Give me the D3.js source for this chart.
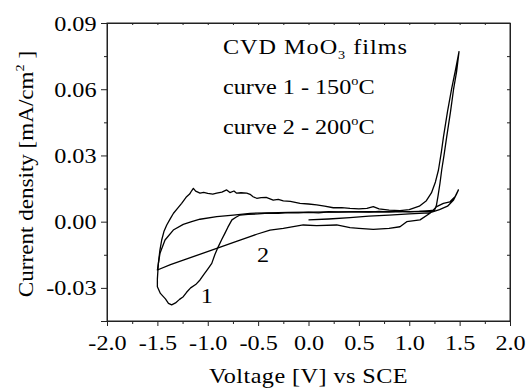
<!DOCTYPE html>
<html>
<head>
<meta charset="utf-8">
<script src="https://cdn.jsdelivr.net/npm/d3@7"></script>
<style>
body { margin: 0; background: #fff; }
text { font-family: "Liberation Serif", "Times New Roman", serif; fill: #000; }
</style>
</head>
<body>
<svg id="chart" width="526" height="390"></svg>
<script>
// tick values
var xTicks = [-2.0, -1.5, -1.0, -0.5, 0.0, 0.5, 1.0, 1.5, 2.0];
var xMinor = [-1.75, -1.25, -0.75, -0.25, 0.25, 0.75, 1.25, 1.75];
var yTicks = [-0.03, 0.00, 0.03, 0.06, 0.09];
var yMinor = [-0.045, -0.015, 0.015, 0.045, 0.075];

// curve 1 (150 C): cathodic branch, reversal at -1.5 V, anodic branch, up to 1.5 V and back
var curve1V = [-0.68, -0.72, -0.76, -0.80, -0.83, -0.86, -0.895, -0.93, -0.96, -1.00, -1.04, -1.077, -1.12, -1.17, -1.21, -1.243, -1.28, -1.32, -1.358, -1.39, -1.42, -1.47, -1.50,
  -1.50, -1.49, -1.475, -1.457, -1.435, -1.407, -1.37, -1.34, -1.30, -1.259, -1.21, -1.18, -1.16, -1.143, -1.12, -1.077, -1.04, -1.0, -0.95, -0.911, -0.86, -0.812, -0.78, -0.74, -0.713, -0.67, -0.613, -0.58, -0.55, -0.514, -0.47, -0.42, -0.35, -0.30, -0.25, -0.18, -0.084, 0.0, 0.081, 0.16, 0.246, 0.33, 0.412, 0.50, 0.58, 0.643, 0.70, 0.80, 0.908, 1.0, 1.1, 1.17, 1.22, 1.26, 1.29, 1.32, 1.34, 1.38, 1.42, 1.46, 1.494,
  1.47, 1.44, 1.41, 1.372, 1.345, 1.322, 1.305, 1.285, 1.27, 1.25, 1.2, 1.1, 1.0, 0.9, 0.8, 0.7, 0.6, 0.5, 0.4, 0.3, 0.2, 0.1, 0.0, -0.1, -0.2, -0.3, -0.4, -0.5, -0.6, -0.68];
var curve1I = [0.0030, 0.0020, 0.0008, -0.0025, -0.0053, -0.0080, -0.0113, -0.0150, -0.0189, -0.0215, -0.0240, -0.0264, -0.0285, -0.0300, -0.0320, -0.0340, -0.0352, -0.0368, -0.0377, -0.0370, -0.0350, -0.0325, -0.0295,
  -0.0260, -0.0189, -0.0130, -0.0083, -0.0045, -0.0015, 0.0015, 0.0038, 0.0060, 0.0083, 0.0113, 0.0125, 0.0140, 0.0151, 0.0138, 0.0129, 0.0133, 0.0128, 0.0125, 0.0129, 0.0134, 0.0144, 0.0132, 0.0139, 0.0129, 0.0131, 0.0129, 0.0124, 0.0113, 0.0106, 0.0109, 0.0110, 0.0098, 0.0101, 0.0094, 0.0092, 0.0083, 0.0080, 0.0076, 0.0070, 0.0063, 0.0064, 0.0060, 0.0058, 0.0060, 0.0068, 0.0058, 0.0052, 0.0050, 0.0055, 0.0070, 0.0095, 0.0130, 0.0180, 0.0234, 0.0320, 0.0385, 0.0500, 0.0600, 0.0690, 0.0770,
  0.0680, 0.0600, 0.0500, 0.0385, 0.0300, 0.0234, 0.0174, 0.0115, 0.0075, 0.0050, 0.0045, 0.0047, 0.0045, 0.0048, 0.0044, 0.0046, 0.0043, 0.0045, 0.0044, 0.0043, 0.0045, 0.0040, 0.0042, 0.0040, 0.0041, 0.0038, 0.0039, 0.0035, 0.0033, 0.0030];

// curve 2 (200 C): from 0 V up to 1.5 V, back down to -1.5 V, then up again
var curve2V = [0.0, 0.2, 0.412, 0.6, 0.8, 1.0, 1.2, 1.3, 1.38, 1.44, 1.47, 1.488,
  1.454, 1.404, 1.339, 1.272, 1.206, 1.107, 0.975, 0.908, 0.80, 0.643, 0.50, 0.412, 0.28, 0.081, -0.052, -0.25, -0.382, -0.514, -0.58, -0.75, -0.911, -1.08, -1.243, -1.37, -1.50,
  -1.474, -1.424, -1.342, -1.243, -1.16, -1.077, -0.911, -0.746, -0.58, -0.4, -0.2, 0.0, 0.3, 0.6, 0.9, 1.1, 1.2, 1.25];
var curve2I = [0.0008, 0.0012, 0.0018, 0.0025, 0.0030, 0.0035, 0.0040, 0.0055, 0.0070, 0.0098, 0.0125, 0.0144,
  0.0113, 0.0090, 0.0083, 0.0068, 0.0038, 0.0008, 0.0000, -0.0023, -0.0030, -0.0035, -0.0030, -0.0027, -0.0015, -0.0018, -0.0015, -0.0030, -0.0038, -0.0057, -0.0068, -0.0095, -0.0121, -0.0148, -0.0174, -0.0195, -0.0219,
  -0.0143, -0.0083, -0.0038, -0.0012, 0.0000, 0.0011, 0.0023, 0.0030, 0.0038, 0.0040, 0.0042, 0.0043, 0.0044, 0.0045, 0.0045, 0.0047, 0.0050, 0.0052];

var curveLabels = [{t: "1", v: -1.01, i: -0.0370}, {t: "2", v: -0.45, i: -0.0182}];

var margin = {left: 107, right: 16, top: 23, bottom: 69};
var width = 526 - margin.left - margin.right;
var height = 390 - margin.top - margin.bottom;
var stretch = 1.1; // glyphs in the picture are a bit wide
var fs = 22;

var svg = d3.select("#chart");
var g = svg.append("g").attr("transform", `translate(${margin.left},${margin.top})`);

var x = d3.scaleLinear().domain([-2, 2]).range([0, width]);
var y = d3.scaleLinear().domain([-0.045, 0.09]).range([height, 0]);

function fmt(f){
    return d => d3.format(f)(d).replace("\u2212", "-");
}

// frame
g.append("rect").attr("width", width).attr("height", height)
    .attr("fill", "none").attr("stroke", "#222").attr("stroke-width", 1);

// bottom axis, major + minor
var xAxis = g.append("g").attr("transform", `translate(0,${height})`)
    .call(d3.axisBottom(x).tickValues(xTicks).tickSize(5).tickPadding(8).tickFormat(fmt(".1f")));
g.append("g").attr("transform", `translate(0,${height})`)
    .call(d3.axisBottom(x).tickValues(xMinor).tickSize(3).tickFormat(""));
// left axis
var yAxis = g.append("g")
    .call(d3.axisLeft(y).tickValues(yTicks).tickSize(6).tickPadding(3.5).tickFormat(fmt(".2f")));
g.append("g").call(d3.axisLeft(y).tickValues(yMinor).tickSize(3).tickFormat(""));
// top and right, inward ticks
g.append("g").call(d3.axisTop(x).tickValues(xTicks.concat(xMinor)).tickSize(-2).tickFormat(""));
g.append("g").attr("transform", `translate(${width},0)`)
    .call(d3.axisRight(y).tickValues(yTicks.concat(yMinor)).tickSize(-3).tickFormat(""));

g.selectAll(".domain").attr("stroke", "#222");
g.selectAll(".tick line").attr("stroke", "#222");
g.selectAll(".tick text")
    .attr("font-family", "Liberation Serif")
    .attr("font-size", fs)
    .attr("fill", "#000");
xAxis.selectAll(".tick text").attr("transform", `scale(${stretch},1)`).attr("dy", "0.72em");
yAxis.selectAll(".tick text").attr("transform", `scale(${stretch},1)`);

// curves
var line = d3.line().x(d => x(d[0])).y(d => y(d[1]));
var c1 = curve1V.map((v, k) => [v, curve1I[k]]);
var c2 = curve2V.map((v, k) => [v, curve2I[k]]);
[c1, c2].forEach(c => {
    g.append("path").datum(c)
        .attr("d", line)
        .attr("fill", "none")
        .attr("stroke", "#000")
        .attr("stroke-width", 1.3)
        .attr("stroke-linejoin", "round");
});

// put a text at x,y with the horizontal stretch
function stext(parent, px, py, anchor){
    return parent.append("g").attr("transform", `translate(${px},${py})`)
        .append("text")
        .attr("transform", `scale(${stretch},1)`)
        .attr("text-anchor", anchor || "start")
        .attr("font-size", fs);
}

curveLabels.forEach(l => {
    stext(g, x(l.v), y(l.i), "middle").text(l.t);
});

// legend text
var t1 = stext(svg, 223, 54).attr("letter-spacing", 0.9);
t1.append("tspan").text("CVD MoO");
t1.append("tspan").attr("font-size", 13).attr("dy", 5).text("3");
t1.append("tspan").attr("dy", -5).text(" films");

var legendLines = [["curve 1 - 150", 94], ["curve 2 - 200", 134]];
legendLines.forEach(d => {
    var t = stext(svg, 223, d[1]);
    t.append("tspan").text(d[0]);
    t.append("tspan").attr("font-size", 13).attr("dy", -9).text("o");
    t.append("tspan").attr("dy", 9).text("C");
});

// axis titles
stext(svg, margin.left + width / 2, 383, "middle").attr("letter-spacing", 0.4).text("Voltage [V] vs SCE");

var yt = svg.append("text")
    .attr("transform", `translate(33,174) rotate(-90) scale(1.1,1)`)
    .attr("text-anchor", "middle")
    .attr("font-size", 21);
yt.append("tspan").text("Current density [mA/cm");
yt.append("tspan").attr("font-size", 13).attr("dy", -9).text("2");
yt.append("tspan").attr("dy", 9).text(" ]");
</script>
</body>
</html>
